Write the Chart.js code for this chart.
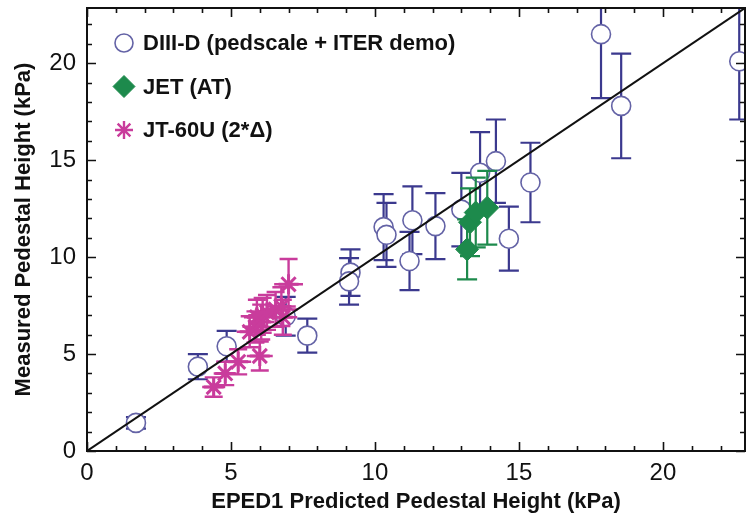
<!DOCTYPE html>
<html>
<head>
<meta charset="utf-8">
<script src="https://cdn.jsdelivr.net/npm/chart.js@4.4.1/dist/chart.umd.min.js"></script>
<style>
  html, body { margin: 0; padding: 0; background: #ffffff; }
  #wrap { width: 747px; height: 525px; position: relative; }
</style>
</head>
<body>
<div id="wrap"><canvas id="c" width="747" height="525"></canvas></div>
<script>
// ---------- data ----------
const seriesLabels = ['DIII-D (pedscale + ITER demo)', 'JET (AT)', 'JT-60U (2*\u0394)'];

const diiidX   = [1.7, 3.85, 4.85, 7.65, 6.9, 9.15, 9.1, 10.3, 10.4, 11.3, 11.2, 12.1, 13.0, 13.65, 14.2, 14.65, 15.4, 17.85, 18.55, 22.65];
const diiidY   = [1.45, 4.35, 5.4, 5.95, 6.95, 9.2, 8.75, 11.55, 11.15, 11.9, 9.8, 11.6, 12.45, 14.35, 14.95, 10.95, 13.85, 21.5, 17.8, 20.1];
const diiidErr = [0.3, 0.65, 0.8, 0.88, 1.0, 1.2, 1.2, 1.7, 1.65, 1.75, 1.5, 1.7, 1.9, 2.1, 2.15, 1.65, 2.05, 3.3, 2.7, 3.0];

const jetX   = [13.2, 13.3, 13.5, 13.9];
const jetY   = [10.4, 11.8, 12.3, 12.55];
const jetErr = [1.55, 1.75, 1.8, 1.9];

const jtX    = [4.4, 4.8, 5.25, 6.0, 5.65, 5.85, 5.9, 6.05, 6.1, 6.25, 6.55, 6.75, 6.8, 7.0];
const jtY    = [3.3, 4.0, 4.6, 4.9, 6.15, 6.4, 6.9, 6.65, 7.0, 7.15, 7.3, 7.45, 6.9, 8.6];
const jtErrY = [0.5, 0.6, 0.65, 0.75, 0.8, 0.8, 0.9, 0.9, 0.9, 0.9, 0.9, 1.0, 0.9, 1.3];
const jtErrX = [0.4, 0.4, 0.45, 0.45, 0.45, 0.45, 0.45, 0.45, 0.5, 0.5, 0.5, 0.5, 0.5, 0.5];

const identityLine = [0, 22.85];          // y = x reference line end points
const xTickValues = [0, 5, 10, 15, 20];
const yTickValues = [0, 5, 10, 15, 20];
const axisMax = 22.85;

const xTitle = 'EPED1 Predicted Pedestal Height (kPa)';
const yTitle = 'Measured Pedestal Height (kPa)';

// ---------- styling ----------
const FONT = "'Liberation Sans Narrow', 'Liberation Sans', Arial, sans-serif";
const C_DIIID = '#3b398e';
const C_DIIID_RING = '#6463a6';
const C_JET = '#1d8a4c';
const C_JT = '#c93c9c';

Chart.defaults.font.family = FONT;
Chart.defaults.color = '#111';

const pts = (xs, ys) => xs.map((x, i) => ({ x: x, y: ys[i] }));

const errorBarPlugin = {
  id: 'errorBars',
  beforeDatasetDraw(chart, args) {
    const ds = chart.data.datasets[args.index];
    if (!ds.errY) return;
    const ctx = chart.ctx;
    const xs = chart.scales.x, ys = chart.scales.y;
    const area = chart.chartArea;
    ctx.save();
    ctx.beginPath();
    ctx.rect(area.left, area.top, area.right - area.left, area.bottom - area.top);
    ctx.clip();
    ctx.strokeStyle = ds.errColor;
    ctx.lineWidth = ds.errWidth;
    ds.data.forEach((p, i) => {
      const px = xs.getPixelForValue(p.x);
      const y1 = ys.getPixelForValue(p.y + ds.errY[i]);
      const y2 = ys.getPixelForValue(p.y - ds.errY[i]);
      const cw = ds.capHalf;
      ctx.beginPath();
      ctx.moveTo(px, y1); ctx.lineTo(px, y2);
      ctx.moveTo(px - cw, y1); ctx.lineTo(px + cw, y1);
      ctx.moveTo(px - cw, y2); ctx.lineTo(px + cw, y2);
      if (ds.errX) {
        const py = ys.getPixelForValue(p.y);
        const x1 = xs.getPixelForValue(p.x - ds.errX[i]);
        const x2 = xs.getPixelForValue(p.x + ds.errX[i]);
        ctx.moveTo(x1, py); ctx.lineTo(x2, py);
      }
      ctx.stroke();
    });
    ctx.restore();
  }
};

const framePlugin = {
  id: 'frame',
  afterDraw(chart) {
    const ctx = chart.ctx;
    const a = chart.chartArea;
    const xs = chart.scales.x, ys = chart.scales.y;
    ctx.save();
    ctx.strokeStyle = '#111';
    ctx.lineWidth = 2;
    ctx.strokeRect(a.left, a.top, a.right - a.left, a.bottom - a.top);
    ctx.lineWidth = 1.6;
    ctx.beginPath();
    for (let v = 0; v <= Math.floor(xs.max); v++) {
      const px = Math.round(xs.getPixelForValue(v)) + 0.5;
      const L = v % 5 === 0 ? 9 : 5;
      ctx.moveTo(px, a.bottom); ctx.lineTo(px, a.bottom - L);
      ctx.moveTo(px, a.top); ctx.lineTo(px, a.top + L);
    }
    for (let v = 0; v <= Math.floor(ys.max); v++) {
      const py = Math.round(ys.getPixelForValue(v)) + 0.5;
      const L = v % 5 === 0 ? 9 : 5;
      ctx.moveTo(a.left, py); ctx.lineTo(a.left + L, py);
      ctx.moveTo(a.right, py); ctx.lineTo(a.right - L, py);
    }
    ctx.stroke();
    ctx.restore();
  }
};

const legendPlugin = {
  id: 'insideLegend',
  afterDraw(chart) {
    const ctx = chart.ctx;
    const a = chart.chartArea;
    const items = chart.data.datasets.filter(d => d.showInLegend);
    ctx.save();
    ctx.font = "bold 22px " + FONT;
    ctx.fillStyle = '#111';
    ctx.textBaseline = 'middle';
    items.forEach((d, i) => {
      const cx = a.left + 37;
      const cy = a.top + 35 + i * 43.5;
      ctx.save();
      ctx.lineWidth = d.legendBorderWidth;
      ctx.strokeStyle = d.pointBorderColor;
      ctx.fillStyle = d.pointBackgroundColor;
      Chart.helpers.drawPoint(ctx, {
        pointStyle: d.pointStyle,
        radius: d.legendRadius,
        borderWidth: d.legendBorderWidth,
        rotation: 0
      }, cx, cy);
      ctx.restore();
      ctx.fillText(d.label, a.left + 56, cy + 1);
    });
    ctx.restore();
  }
};

new Chart(document.getElementById('c'), {
  type: 'scatter',
  data: {
    datasets: [
      {
        label: 'y = x',
        type: 'line',
        data: pts(identityLine, identityLine),
        borderColor: '#111',
        borderWidth: 2,
        pointRadius: 0,
        fill: false,
        order: 0
      },
      {
        label: seriesLabels[0],
        data: pts(diiidX, diiidY),
        errY: diiidErr,
        errColor: C_DIIID, errWidth: 2.2, capHalf: 10,
        pointStyle: 'circle',
        pointRadius: 9.5,
        pointBorderWidth: 1.6,
        pointBorderColor: C_DIIID_RING,
        pointBackgroundColor: '#ffffff',
        legendRadius: 9, legendBorderWidth: 1.6,
        showInLegend: true,
        order: 3
      },
      {
        label: seriesLabels[1],
        data: pts(jetX, jetY),
        errY: jetErr,
        errColor: C_JET, errWidth: 2.2, capHalf: 10,
        pointStyle: 'rectRot',
        pointRadius: 11.5,
        pointBorderWidth: 1,
        pointBorderColor: C_JET,
        pointBackgroundColor: C_JET,
        legendRadius: 11, legendBorderWidth: 1,
        showInLegend: true,
        order: 2
      },
      {
        label: seriesLabels[2],
        data: pts(jtX, jtY),
        errY: jtErrY, errX: jtErrX,
        errColor: C_JT, errWidth: 2.4, capHalf: 9,
        pointStyle: 'star',
        pointRadius: 10,
        pointBorderWidth: 3,
        pointBorderColor: C_JT,
        pointBackgroundColor: C_JT,
        legendRadius: 9, legendBorderWidth: 2.4,
        showInLegend: true,
        order: 1
      }
    ]
  },
  options: {
    responsive: false,
    animation: false,
    devicePixelRatio: 1,
    layout: { autoPadding: false, padding: { top: 8, right: 2, left: 0, bottom: 0 } },
    plugins: {
      legend: { display: false },
      tooltip: { enabled: false }
    },
    scales: {
      x: {
        type: 'linear',
        min: 0, max: axisMax,
        afterBuildTicks: (s) => { s.ticks = xTickValues.map(v => ({ value: v })); },
        afterFit: (s) => { s.height = 74; s.paddingLeft = 0; s.paddingRight = 0; },
        grid: { display: false, drawTicks: false },
        border: { display: true, color: '#111', width: 2 },
        ticks: { padding: 8, color: '#111', font: { size: 24 }, maxRotation: 0 },
        title: { display: true, text: xTitle, color: '#111',
                 font: { size: 22, weight: 'bold' }, padding: { top: 0, bottom: 10 } }
      },
      y: {
        type: 'linear',
        min: 0, max: axisMax,
        afterBuildTicks: (s) => { s.ticks = yTickValues.map(v => ({ value: v })); },
        afterFit: (s) => { s.width = 87; s.paddingTop = 0; s.paddingBottom = 0; },
        grid: { display: false, drawTicks: false },
        border: { display: true, color: '#111', width: 2 },
        ticks: { padding: 11, color: '#111', font: { size: 24 } },
        title: { display: true, text: yTitle, color: '#111',
                 font: { size: 22, weight: 'bold' }, padding: { top: 11, bottom: 0 } }
      }
    }
  },
  plugins: [errorBarPlugin, framePlugin, legendPlugin]
});
</script>
</body>
</html>
